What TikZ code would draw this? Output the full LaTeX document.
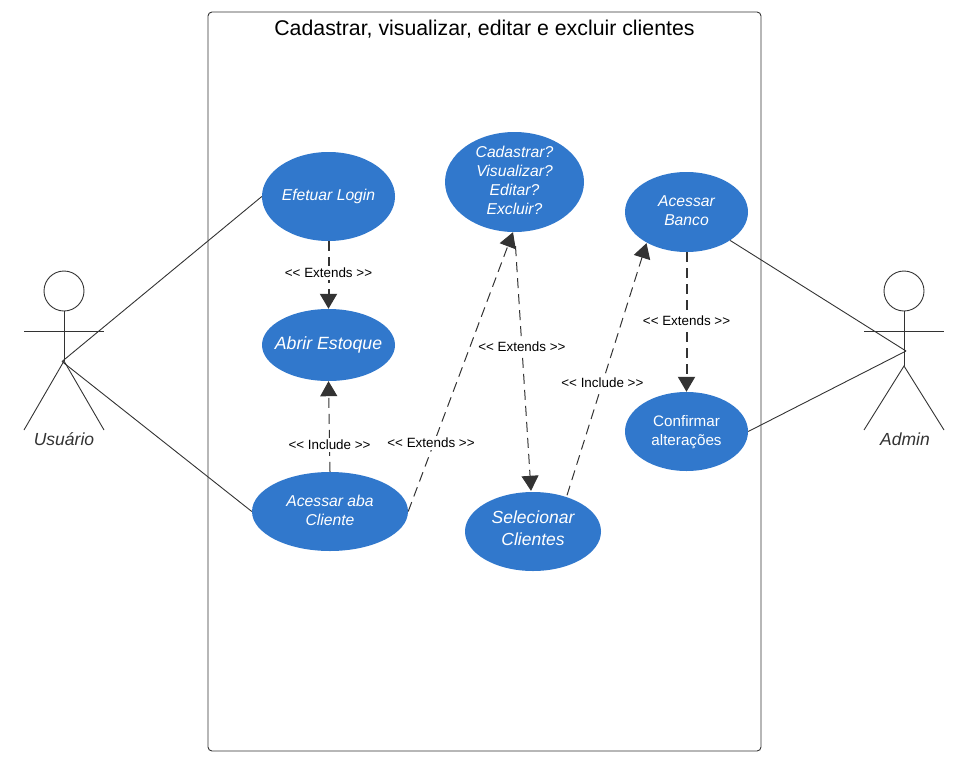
\documentclass[tikz,border=0pt]{standalone}
\usepackage{fontspec}
\setmainfont{Liberation Sans}[Ligatures=TeXOff]
\usepackage{xcolor}
\usetikzlibrary{shapes.geometric,arrows.meta,calc}
\definecolor{casefill}{HTML}{3178CC}
\definecolor{linedark}{HTML}{333333}
\newcommand{\liftline}[2]{\raisebox{#1}[\height][\depth]{#2}}
\tikzset{
  usecase/.style={ellipse,fill=casefill,text=white,inner sep=0pt,align=center,font=\itshape\fontsize{15.7}{19}\selectfont},
  link/.style={linedark,line width=0.9pt},
  relthin/.style={linedark,line width=1pt,dash pattern=on 10pt off 6pt,-{Triangle[length=15pt,width=17pt]}},
  relthick/.style={linedark,line width=2pt,dash pattern=on 10pt off 6pt,-{Triangle[length=15pt,width=17pt]}},
  rellabel/.style={fill=white,text=black,inner sep=2pt,font=\fontsize{13.4}{16}\selectfont},
  actorname/.style={text=linedark,font=\itshape\fontsize{17.5}{21}\selectfont}
}
\begin{document}
\begin{tikzpicture}[x=1pt,y=-1pt]
    \useasboundingbox (0,0) rectangle (968,771);
    \node (box) [draw=linedark,line width=0.9pt,rounded corners=4pt,minimum width=553pt,minimum height=739pt,inner sep=0pt] at (484.5,381.5) {};
    \node (title) [font=\fontsize{21.3}{25}\selectfont] at (484.5,29.5) {Cadastrar, visualizar, editar e excluir clientes};

    % casos de uso
    \node (login) [usecase,minimum width=133pt,minimum height=89pt] at (328.5,196.5) {Efetuar Login};
    \node (estoque) [usecase,minimum width=133pt,minimum height=72pt,font=\itshape\fontsize{17.7}{21}\selectfont] at (328.5,345) {\makebox[0pt]{Abrir Estoque}};
    \node (aba) [usecase,minimum width=156pt,minimum height=79pt] at (330,511.5) {\liftline{1pt}{Acessar aba}\\\liftline{1pt}{Cliente}};
    \node (opcoes) [usecase,minimum width=139pt,minimum height=100pt] at (514.5,182) {\liftline{2pt}{Cadastrar?}\\\liftline{2pt}{Visualizar?}\\\liftline{2pt}{Editar?}\\\liftline{2pt}{Excluir?}};
    \node (selecionar) [usecase,minimum width=136pt,minimum height=79pt,font=\itshape\fontsize{17.5}{22}\selectfont] at (533,531.5) {\liftline{3pt}{Selecionar}\\\liftline{3pt}{Clientes}};
    \node (banco) [usecase,minimum width=123pt,minimum height=80pt] at (686.5,212) {\liftline{1pt}{Acessar}\\\liftline{1pt}{Banco}};
    \node (confirmar) [usecase,minimum width=123pt,minimum height=79pt,font=\fontsize{15.2}{19}\selectfont] at (686.5,431.5) {\liftline{-1pt}{Confirmar}\\\liftline{-1pt}{alterações}};

    % atores
    \node (headU) [circle,draw=linedark,line width=0.9pt,minimum size=40pt,inner sep=0pt] at (64,291) {};
    \coordinate (hipU) at (64,361);
    \coordinate (endU) at (62,361.5);
    \draw[link] (headU.south) -- (hipU);
    \draw[link] (24,331) -- (104,331);
    \draw[link] (24,430) -- (hipU) -- (104,430);
    \node (nameU) [actorname] at (64,439) {Usuário};

    \node (headA) [circle,draw=linedark,line width=0.9pt,minimum size=40pt,inner sep=0pt] at (904,291) {};
    \coordinate (hipA) at (904,366);
    \coordinate (endA) at (906,351);
    \draw[link] (headA.south) -- (hipA);
    \draw[link] (864,331) -- (944,331);
    \draw[link] (864,430) -- (hipA) -- (944,430);
    \node (nameA) [actorname] at (905,439) {Admin};

    % ligacoes
    \draw[link] (endU) -- (login.west);
    \draw[link] (endU) -- (aba.west);
    \draw[link] (endA) -- (banco.south east);
    \draw[link] (endA) -- (confirmar.east);

    \draw[relthick] (login.south) -- (estoque.north) node[pos=0.47,rellabel] (l1) {<< Extends >>};
    \draw[relthin] (aba.north) -- (estoque.south) node[pos=0.3,rellabel] (l2) {<< Include >>};
    \draw[relthin] (aba.east) -- ($(opcoes.south)+(-1.5,0)$);
    \node (l3) [rellabel] at (431,443) {<< Extends >>};
    \draw[relthin] ($(opcoes.south)+(1,14)$) -- ($(selecionar.north)+(-2,-1)$) node[pos=0.41,rellabel] (l4) {<< Extends >>};
    \draw[relthin] ($(selecionar.north)+(34,3.5)$) -- ($(banco.south)+(-40,-9)$) node[pos=0.445,rellabel] (l5) {<< Include >>};
    \draw[relthick] (banco.south) -- (confirmar.north) node[pos=0.49,rellabel] (l6) {<< Extends >>};
\end{tikzpicture}
\end{document}
